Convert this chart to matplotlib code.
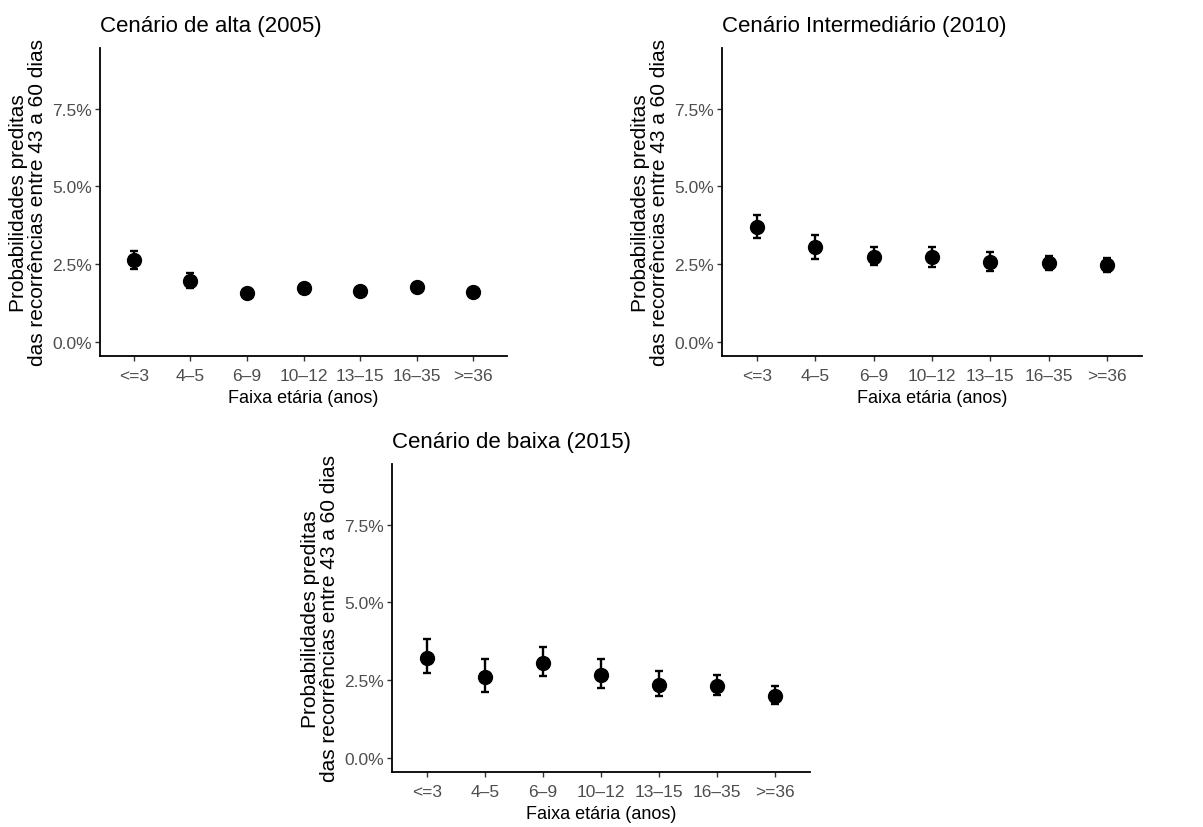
import numpy as np
import matplotlib
matplotlib.use("Agg")
import matplotlib.pyplot as plt
from matplotlib.ticker import FuncFormatter

plt.rcParams['font.family'] = ['Liberation Sans', 'DejaVu Sans']

faixas = ['<=3', '4–5', '6–9', '10–12', '13–15', '16–35', '>=36']

# probabilidades preditas (%) e intervalos de confiança
alta_est = [2.64, 1.96, 1.58, 1.72, 1.65, 1.77, 1.62]
alta_lo = [2.36, 1.72, 1.48, 1.60, 1.54, 1.69, 1.54]
alta_hi = [2.93, 2.23, 1.68, 1.84, 1.77, 1.85, 1.70]

inter_est = [3.69, 3.05, 2.74, 2.72, 2.56, 2.53, 2.48]
inter_lo = [3.34, 2.67, 2.46, 2.42, 2.28, 2.32, 2.26]
inter_hi = [4.09, 3.44, 3.05, 3.05, 2.88, 2.76, 2.69]

baixa_est = [3.22, 2.61, 3.04, 2.67, 2.35, 2.32, 2.00]
baixa_lo = [2.72, 2.13, 2.62, 2.25, 1.98, 2.03, 1.72]
baixa_hi = [3.81, 3.17, 3.57, 3.19, 2.81, 2.66, 2.32]

titulos = ['Cenário de alta (2005)', 'Cenário Intermediário (2010)', 'Cenário de baixa (2015)']
yticks = [0.0, 2.5, 5.0, 7.5]

W, H = 1203, 828
fig = plt.figure(figsize=(W / 100, H / 100), dpi=100)


def px_axes(left, top, right, bottom):
    return fig.add_axes([left / W, 1 - bottom / H, (right - left) / W, (bottom - top) / H])


paineis = [
    (px_axes(100, 49, 507, 357), alta_est, alta_lo, alta_hi),
    (px_axes(722, 49, 1142, 357), inter_est, inter_lo, inter_hi),
    (px_axes(392, 465, 810, 773), baixa_est, baixa_lo, baixa_hi),
]

for (ax, est, lo, hi), titulo in zip(paineis, titulos):
    x = np.arange(len(faixas))
    est = np.array(est)
    err = [est - np.array(lo), np.array(hi) - est]
    ax.errorbar(x, est, yerr=err, fmt='o', color='black', markersize=10,
                elinewidth=1.7, capsize=3, capthick=1.7)

    ax.set_xlim(-0.6, len(faixas) - 0.4)
    ax.set_ylim(-0.45, 9.45)
    ax.set_xticks(x)
    ax.set_xticklabels(faixas)
    ax.set_yticks(yticks)
    ax.yaxis.set_major_formatter(FuncFormatter(lambda v, p: f'{v:.1f}%'))

    for s in ['top', 'right']:
        ax.spines[s].set_visible(False)
    for s in ['left', 'bottom']:
        ax.spines[s].set_linewidth(1.3)
    ax.tick_params(length=3.5, width=1, color='#333333', labelcolor='#4D4D4D',
                   labelsize=12.5)
    ax.tick_params(axis='x', pad=5)
    ax.tick_params(axis='y', pad=2.5)

    ax.set_title(titulo, loc='left', fontsize=16, pad=12)
    ax.set_xlabel('Faixa etária (anos)', fontsize=13, labelpad=4.5)
    ax.set_ylabel('Probabilidades preditas\ndas recorrências entre 43 a 60 dias',
                  fontsize=15, labelpad=3.5, linespacing=1.0)

fig.savefig('out.png', dpi=100, facecolor='white')
